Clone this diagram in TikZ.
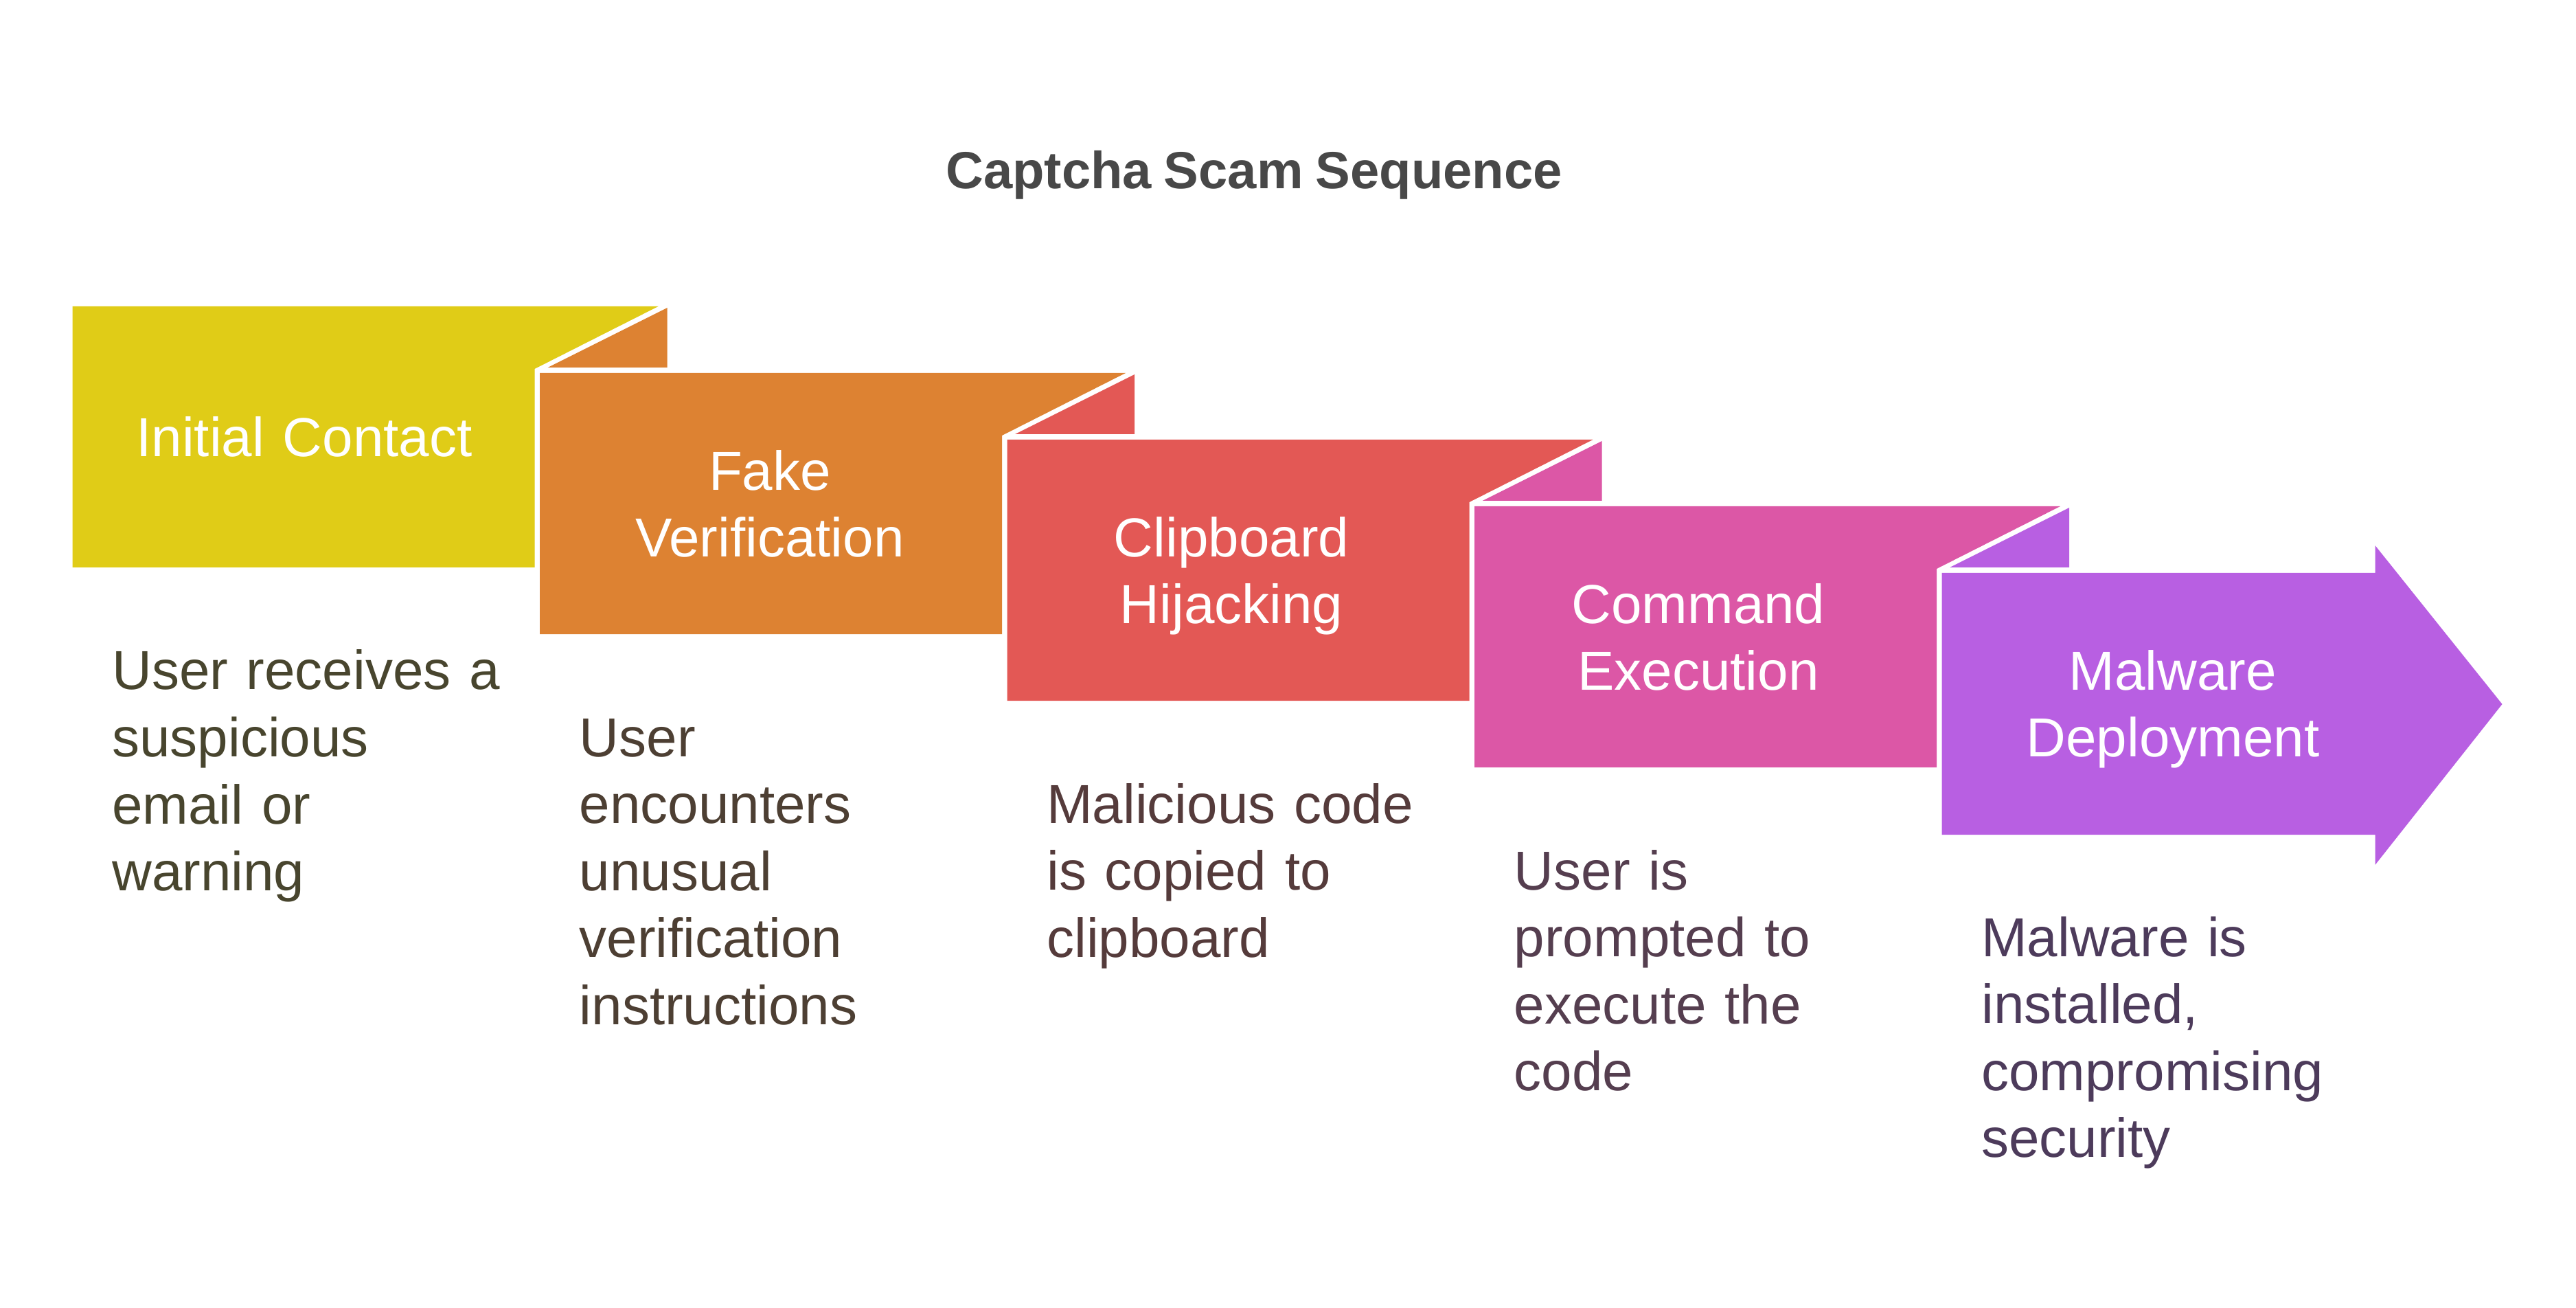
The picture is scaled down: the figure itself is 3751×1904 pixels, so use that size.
\documentclass[tikz,border=0pt]{standalone}
\usepackage{fontspec}
\setmainfont[WordSpace=0.85]{Liberation Sans}
\definecolor{cA}{HTML}{E0CC17}
\definecolor{cB}{HTML}{DD8232}
\definecolor{cC}{HTML}{E35855}
\definecolor{cD}{HTML}{DC57A6}
\definecolor{cE}{HTML}{B85FE2}
\definecolor{tA}{HTML}{48452E}
\definecolor{tB}{HTML}{4D3F33}
\definecolor{tC}{HTML}{553B3B}
\definecolor{tD}{HTML}{553E4F}
\definecolor{tE}{HTML}{4D3B5B}
\definecolor{titlecol}{HTML}{484848}
\begin{document}
\begin{tikzpicture}[x=0.25pt,y=-0.25pt,
  headtext/.style={text=white, font=\fontsize{20}{24.25}\selectfont, text width=175pt, align=center, anchor=base, inner sep=0pt},
  desctext/.style={font=\fontsize{20}{24.4}\selectfont, text width=170pt, align=left, anchor=base west, inner sep=0pt},
  titletext/.style={text=titlecol, font=\fontsize{19}{23}\selectfont\bfseries, anchor=base, inner sep=0pt}]
\useasboundingbox (0,0) rectangle (3751,1904);
\node[titletext] (title) at (1826,275) {Captcha Scam Sequence};
% folded boxes
\foreach \k/\col/\ncol in {0/cA/cB,1/cB/cC,2/cC/cD,3/cD/cE}{
  \begin{scope}[shift={(105.5+680.5*\k,446+97*\k)}]
    \fill[\col] (0,0) -- (853,0) -- (673,91) -- (673,380) -- (0,380) -- cycle;
    \fill[\ncol] (866,2) -- (866,89) -- (692,89) -- cycle;
  \end{scope}
}
% final arrow
\begin{scope}[shift={(2827.5,834)}]
  \fill[cE] (0,0) -- (631,0) -- (631,-40) -- (816,191) -- (631,425) -- (631,381) -- (0,381) -- cycle;
\end{scope}
% headings
\node[headtext] (h0) at (443,665) {Initial Contact};
\node[headtext] (h1) at (1121,713.5) {Fake\\Verification};
\node[headtext] (h2) at (1793,810.5) {Clipboard\\Hijacking};
\node[headtext] (h3) at (2473,907.5) {Command\\Execution};
\node[headtext] (h4) at (3164,1004.5) {Malware\\Deployment};
% descriptions
\node[desctext, text=tA] (d0) at (162.5,1004) {User receives a\\suspicious\\email or\\warning};
\node[desctext, text=tB] (d1) at (843,1101) {User\\encounters\\unusual\\verification\\instructions};
\node[desctext, text=tC] (d2) at (1523.5,1198) {Malicious code\\is copied to\\clipboard};
\node[desctext, text=tD] (d3) at (2204,1295) {User is\\prompted to\\execute the\\code};
\node[desctext, text=tE] (d4) at (2884.5,1392) {Malware is\\installed,\\compromising\\security};
\end{tikzpicture}
\end{document}
